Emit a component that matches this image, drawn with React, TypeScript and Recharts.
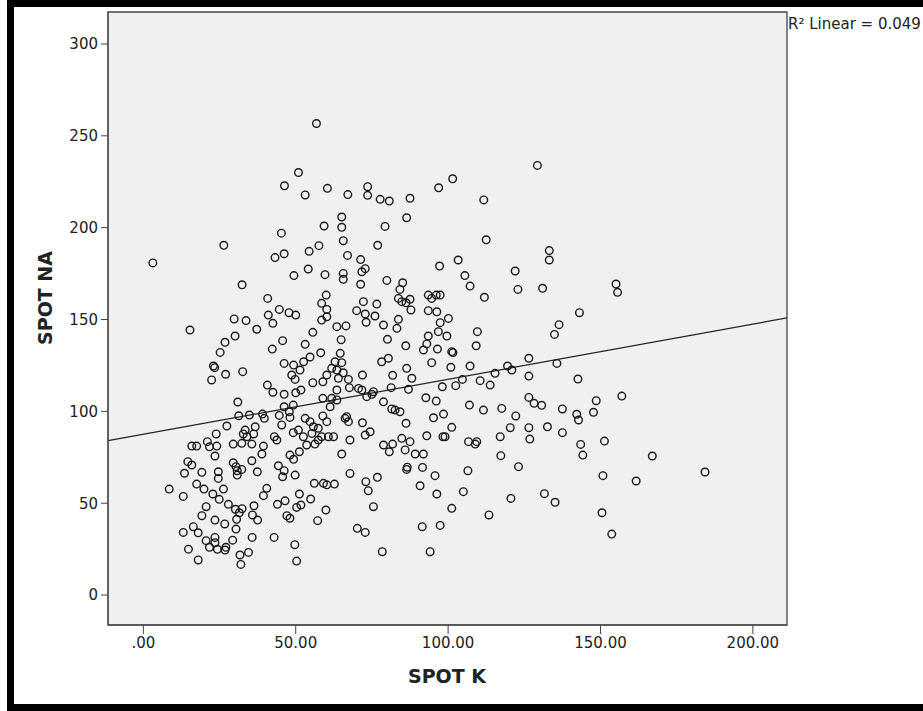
import { ScatterChart, Scatter, XAxis, YAxis, CartesianGrid, ReferenceArea, ReferenceLine } from 'recharts';

// SPOT K values (x)
const spotK = [
  56.8, 50.9, 46.3, 53.1, 60.4, 59.3, 45.3, 26.4, 3.1, 43.2, 46.2, 54.4, 57.6, 54.1, 49.4, 32.4, 59.6,
  101.5, 96.9, 111.7, 87.5, 80.7, 77.7, 73.6, 73.6, 67.1, 86.4, 79.3, 65.1, 65.1, 65.6, 76.9, 112.5, 67, 71.3, 72.8, 71.7, 65.6, 65.6, 71.3, 79.9, 85.1, 84.2, 97.2, 103.3, 105.5, 107.2, 122, 122.9,
  129.3, 133.2, 133.2, 131, 155.1, 155.6,
  143.1, 136.4, 134.9, 126.5, 135.7, 126.5, 142.6, 126.5, 128.2, 130.7, 137.5, 148.6, 157, 142.2, 142.8, 147.7, 126.5, 132.6, 137.5, 126.8, 143.5, 151.3,
  144.2, 167, 184.3, 150.8, 161.7, 131.6, 135.1, 150.5, 153.7,
  65.1, 80.7, 85.9, 89.2, 91.9, 117.3, 123.1, 86.4, 86.6, 91.6, 67.8, 76.8, 73, 62.7, 95.7, 106.5, 73.8, 90.8, 96.3, 105, 120.6, 75.5, 101.2, 113.4, 70.2, 72.8, 91.5, 97.4, 78.4, 94.1,
  8.5, 13.1, 13.5, 14.6, 15.9, 19.2, 17.5, 19.9, 22.8, 26.3, 24.9, 20.6, 19.2, 13.1, 16.4, 18, 14.8, 18, 20.6, 23.5, 23.5, 21.7, 24.3, 27.1, 26.8, 29.3, 23.5, 26.7, 30.4, 31.7, 32, 34.5, 35.7, 30.6, 31.5, 32.4, 30.2, 36.3, 35.8, 37.5, 27.9, 42.9, 49.7, 50.3, 44, 46.5, 47.1, 48.1, 50.3, 51.7, 54.9, 51.2, 57.2, 59.9, 39.4, 40.5, 49.8, 45.7, 44.3, 46.2, 48.1, 49.3, 51.2, 56.1, 59.1, 60.2, 35.6, 37.4, 38.9, 29.5, 30.4, 30.8, 32.3, 30.8, 24.6, 24.6, 23.5,
  40.8, 15.3, 29.8, 33.7, 37.2, 41, 42.5, 44.6, 47.8, 50, 30.1, 26.8, 25.2, 45.7, 42.3, 55.6, 53.1, 58.2, 54.7, 60, 58.5, 60.2, 58.5, 60.2, 23, 23.4, 22.4, 27, 32.6, 46.2, 49.3, 52.6, 51.4, 48.7, 49.8, 55.6, 58.9, 60.2, 40.7, 42.5, 46.2, 50, 51.7, 58.9, 31, 31.3, 34.8, 39.1, 39.7, 27.4, 46.2, 49.2, 44.6, 48.1, 47.9, 45.4, 33.4, 36.7, 36.2, 23.9, 21, 17.5, 15.9, 21.7, 24.1, 29.5, 32.8, 34, 32.3, 35.6, 39.4, 43, 43.8, 49.2, 50.9, 53.1, 54.7, 55.8, 55.3, 57.4, 58.9, 60.2, 58.5, 60.7, 56.3, 52.5, 53.6, 57.4,
  72.2, 76.6, 70, 72.8, 76, 73.1, 83.7, 86.2, 87.5, 84.8, 87.8, 83.7, 83.2, 78.8, 93.5, 96.1, 94.6, 97.4, 93.5, 96.3, 100.1, 97.4, 96.8, 99.6, 93.5, 93, 91.9, 96.5, 101.2, 101.6, 109.6, 109.2, 111.9, 80.1, 86.1, 94.6, 100.9, 107.2, 78.2, 80.4, 86.4, 88.1, 81.8, 71.9, 64.6, 65.1, 61.8, 63.5, 65.6, 64, 67.3, 63.5, 67.6, 70.6, 61.8, 63.5, 71.7, 73.3, 75.5, 75, 81.3, 87, 78.8, 81.5, 84.2, 82.6, 86.2, 92.7, 96.1, 98.5, 95.2, 98.3, 99, 93, 101.2, 98.1, 102.5, 104.7, 110.5, 113.8, 115.4, 119.5, 120.9, 107, 111.6, 117.6, 122.2, 120.4, 106.7, 108.9, 109.4, 117.1, 66.7, 67.3, 66.2, 71.9, 74.4, 72.8, 62.4, 67.8, 78.8, 81.8, 84.8, 87.5, 61.3, 63.5, 66.5, 64.9, 62.9,
];

// SPOT NA values (y), same order as spotK
const spotNA = [
  256.7, 230, 222.8, 217.8, 221.4, 200.9, 197, 190.4, 180.8, 183.7, 185.8, 187.1, 190.2, 177.5, 173.9, 168.9, 174.4,
  226.6, 221.7, 215.1, 216, 214.5, 215.4, 222.3, 217.6, 218, 205.4, 200.7, 205.8, 200.2, 192.9, 190.4, 193.4, 184.9, 182.6, 177.7, 176, 175.1, 171.9, 169.2, 171.3, 170, 166.4, 179.1, 182.4, 173.9, 168.2, 176.4, 166.4,
  233.9, 187.5, 182.4, 167, 169.3, 164.8,
  153.7, 147.2, 141.9, 128.9, 126.1, 119.2, 117.6, 107.6, 104.4, 103.3, 101.3, 105.8, 108.3, 98.4, 95.3, 99.5, 91.1, 91.6, 88.4, 84.9, 82, 83.8,
  76.2, 75.7, 67, 65, 62.1, 55.2, 50.5, 44.8, 33.2,
  76.8, 78, 79, 76.8, 76.8, 75.9, 69.9, 68.4, 69.6, 69.5, 66.2, 64.1, 61.7, 60.4, 65, 67.7, 56.8, 59.5, 55, 56.3, 52.6, 48.1, 47.2, 43.6, 36.3, 34.1, 37.2, 37.9, 23.6, 23.6,
  57.7, 53.7, 66.3, 72.6, 70.8, 66.8, 60.4, 57.7, 55, 57.7, 52.1, 48.1, 43.2, 34.1, 37.2, 33.9, 25, 19.1, 29.6, 31.4, 28.5, 26, 24.9, 26, 24.5, 29.9, 40.8, 38.7, 35.9, 21.8, 16.7, 23.2, 31.4, 41.2, 44.8, 47, 46.7, 48.6, 43.6, 40.8, 49.4, 31.4, 27.4, 18.5, 49.4, 51.3, 43.2, 41.8, 47.7, 49, 52.3, 55, 40.5, 46.3, 54.1, 58.1, 65.3, 64.4, 70.4, 67.7, 76.2, 73.9, 78, 60.8, 60.8, 60, 73.1, 67.1, 76.8, 72, 69.9, 67.7, 68.4, 65.3, 67.1, 63.5, 75.7,
  161.5, 144.3, 150.3, 149.4, 144.7, 152.4, 147.9, 155.5, 153.7, 152.4, 141, 137.6, 132.1, 138.5, 133.9, 143, 136.5, 131.9, 129.6, 163.3, 158.8, 155.5, 149.7, 151.5, 124.7, 123.8, 117.1, 120.2, 121.6, 126.1, 125.2, 127, 122.5, 119.8, 117.4, 115.6, 116.1, 119.8, 114.3, 110.4, 109.3, 110.1, 111.6, 107.1, 105.1, 97.6, 98, 98.5, 96.2, 92, 102.5, 103.4, 97.8, 96.7, 99.8, 92.6, 89.8, 91.6, 87.7, 87.7, 83.5, 81.1, 81.1, 80.7, 81.1, 82.2, 87.7, 86.2, 82.6, 82.2, 81.1, 86.2, 84.4, 88.4, 89.8, 96.2, 94.4, 91.6, 88, 90.8, 97.5, 94.4, 86.2, 86.2, 82.2, 86.2, 81.7, 84.4,
  159.7, 158.4, 154.8, 153, 151.9, 148.5, 161.5, 159.1, 161, 159.7, 155.2, 150.1, 145.2, 147, 163.3, 163.3, 161.5, 163.3, 154.8, 154.2, 150.6, 148.3, 143.4, 141, 141, 136.7, 133.4, 133.9, 132.5, 132, 143.4, 135.7, 162.1, 139.2, 135.7, 126.5, 124, 124.7, 127, 128.9, 123.4, 118, 119.6, 119.8, 131.6, 126.5, 123.4, 122.5, 121, 118, 117.4, 111.6, 112.9, 112.5, 107.1, 106.2, 111.6, 108, 110.7, 109.3, 112.9, 112, 105.2, 101.3, 99.8, 100.7, 93.5, 107.4, 105.6, 98.5, 96.5, 86.2, 86.2, 86.7, 91.3, 113.4, 114, 117.4, 116.7, 114.3, 120.7, 124.7, 122.5, 103.4, 100.7, 101.6, 97.5, 91.1, 83.5, 82.2, 83.5, 86.2, 97.1, 94.4, 96.2, 93.8, 88.9, 87.1, 86.2, 84.4, 81.7, 82.2, 85.3, 83.5, 102.5, 146.1, 146.5, 139, 127,
];

const xTicks = [0, 50, 100, 150, 200];
const yTicks = [0, 50, 100, 150, 200, 250, 300];
const xDomain = [-11.6, 211.2];
const yDomain = [-16.3, 317.4];

// linear fit line
const fitIntercept = 87.5;
const fitSlope = 0.3;
const rSquared = '0.049';

const points = spotK.map((k, i) => ({ k, na: spotNA[i] }));

const fmtX = (v: number) => (v === 0 ? '.00' : v.toFixed(2));

const Ring = (props: any) => (
  <circle cx={props.cx} cy={props.cy} r={3.8} fill="none" stroke="#1a1a1a" strokeWidth={1.4} />
);

export default function App() {
  const tickStyle = { fill: '#222', fontSize: 15, fontFamily: 'DejaVu Sans' };
  return (
    <div style={{ position: 'absolute', left: 0, top: 0, width: 923, height: 711, background: '#fff', overflow: 'hidden', fontFamily: 'DejaVu Sans' }}>
      <div style={{ position: 'absolute', left: 7, top: 0, width: 930, height: 711, border: '7px solid #000', boxSizing: 'border-box' }} />
      <ScatterChart width={923} height={711} margin={{ top: 12, right: 136, bottom: 0, left: 0 }} style={{ position: 'absolute', left: 0, top: 0 }}>
        <CartesianGrid horizontal={false} vertical={false} fill="#f0f0f0" />
        <XAxis
          type="number"
          dataKey="k"
          domain={xDomain}
          ticks={xTicks}
          allowDataOverflow
          height={86}
          tickSize={9}
          tickMargin={3}
          tickFormatter={fmtX}
          tick={tickStyle}
          stroke="#444"
        />
        <YAxis
          type="number"
          dataKey="na"
          domain={yDomain}
          ticks={yTicks}
          allowDataOverflow
          width={108}
          tickSize={7}
          tickMargin={3}
          tick={tickStyle}
          stroke="#444"
        />
        <ReferenceLine
          segment={[
            { x: xDomain[0], y: fitIntercept + fitSlope * xDomain[0] },
            { x: xDomain[1], y: fitIntercept + fitSlope * xDomain[1] },
          ]}
          stroke="#222"
          strokeWidth={1.2}
          ifOverflow="visible"
        />
        <Scatter data={points} shape={Ring} isAnimationActive={false} />
        <ReferenceArea x1={xDomain[0]} x2={xDomain[1]} y1={yDomain[0]} y2={yDomain[1]} fill="none" stroke="#444" strokeWidth={1.3} fillOpacity={0} />
      </ScatterChart>
      <div style={{ position: 'absolute', left: 788, top: 17, fontSize: 15, lineHeight: 1, color: '#222', whiteSpace: 'nowrap' }}>
        R² Linear = {rSquared}
      </div>
      <div style={{ position: 'absolute', left: 447, top: 676, transform: 'translate(-50%, -50%)', fontSize: 19, fontWeight: 'bold', color: '#222', whiteSpace: 'nowrap' }}>
        SPOT K
      </div>
      <div style={{ position: 'absolute', left: 45, top: 298, transform: 'translate(-50%, -50%) rotate(-90deg)', fontSize: 19, fontWeight: 'bold', color: '#222', whiteSpace: 'nowrap' }}>
        SPOT NA
      </div>
    </div>
  );
}
